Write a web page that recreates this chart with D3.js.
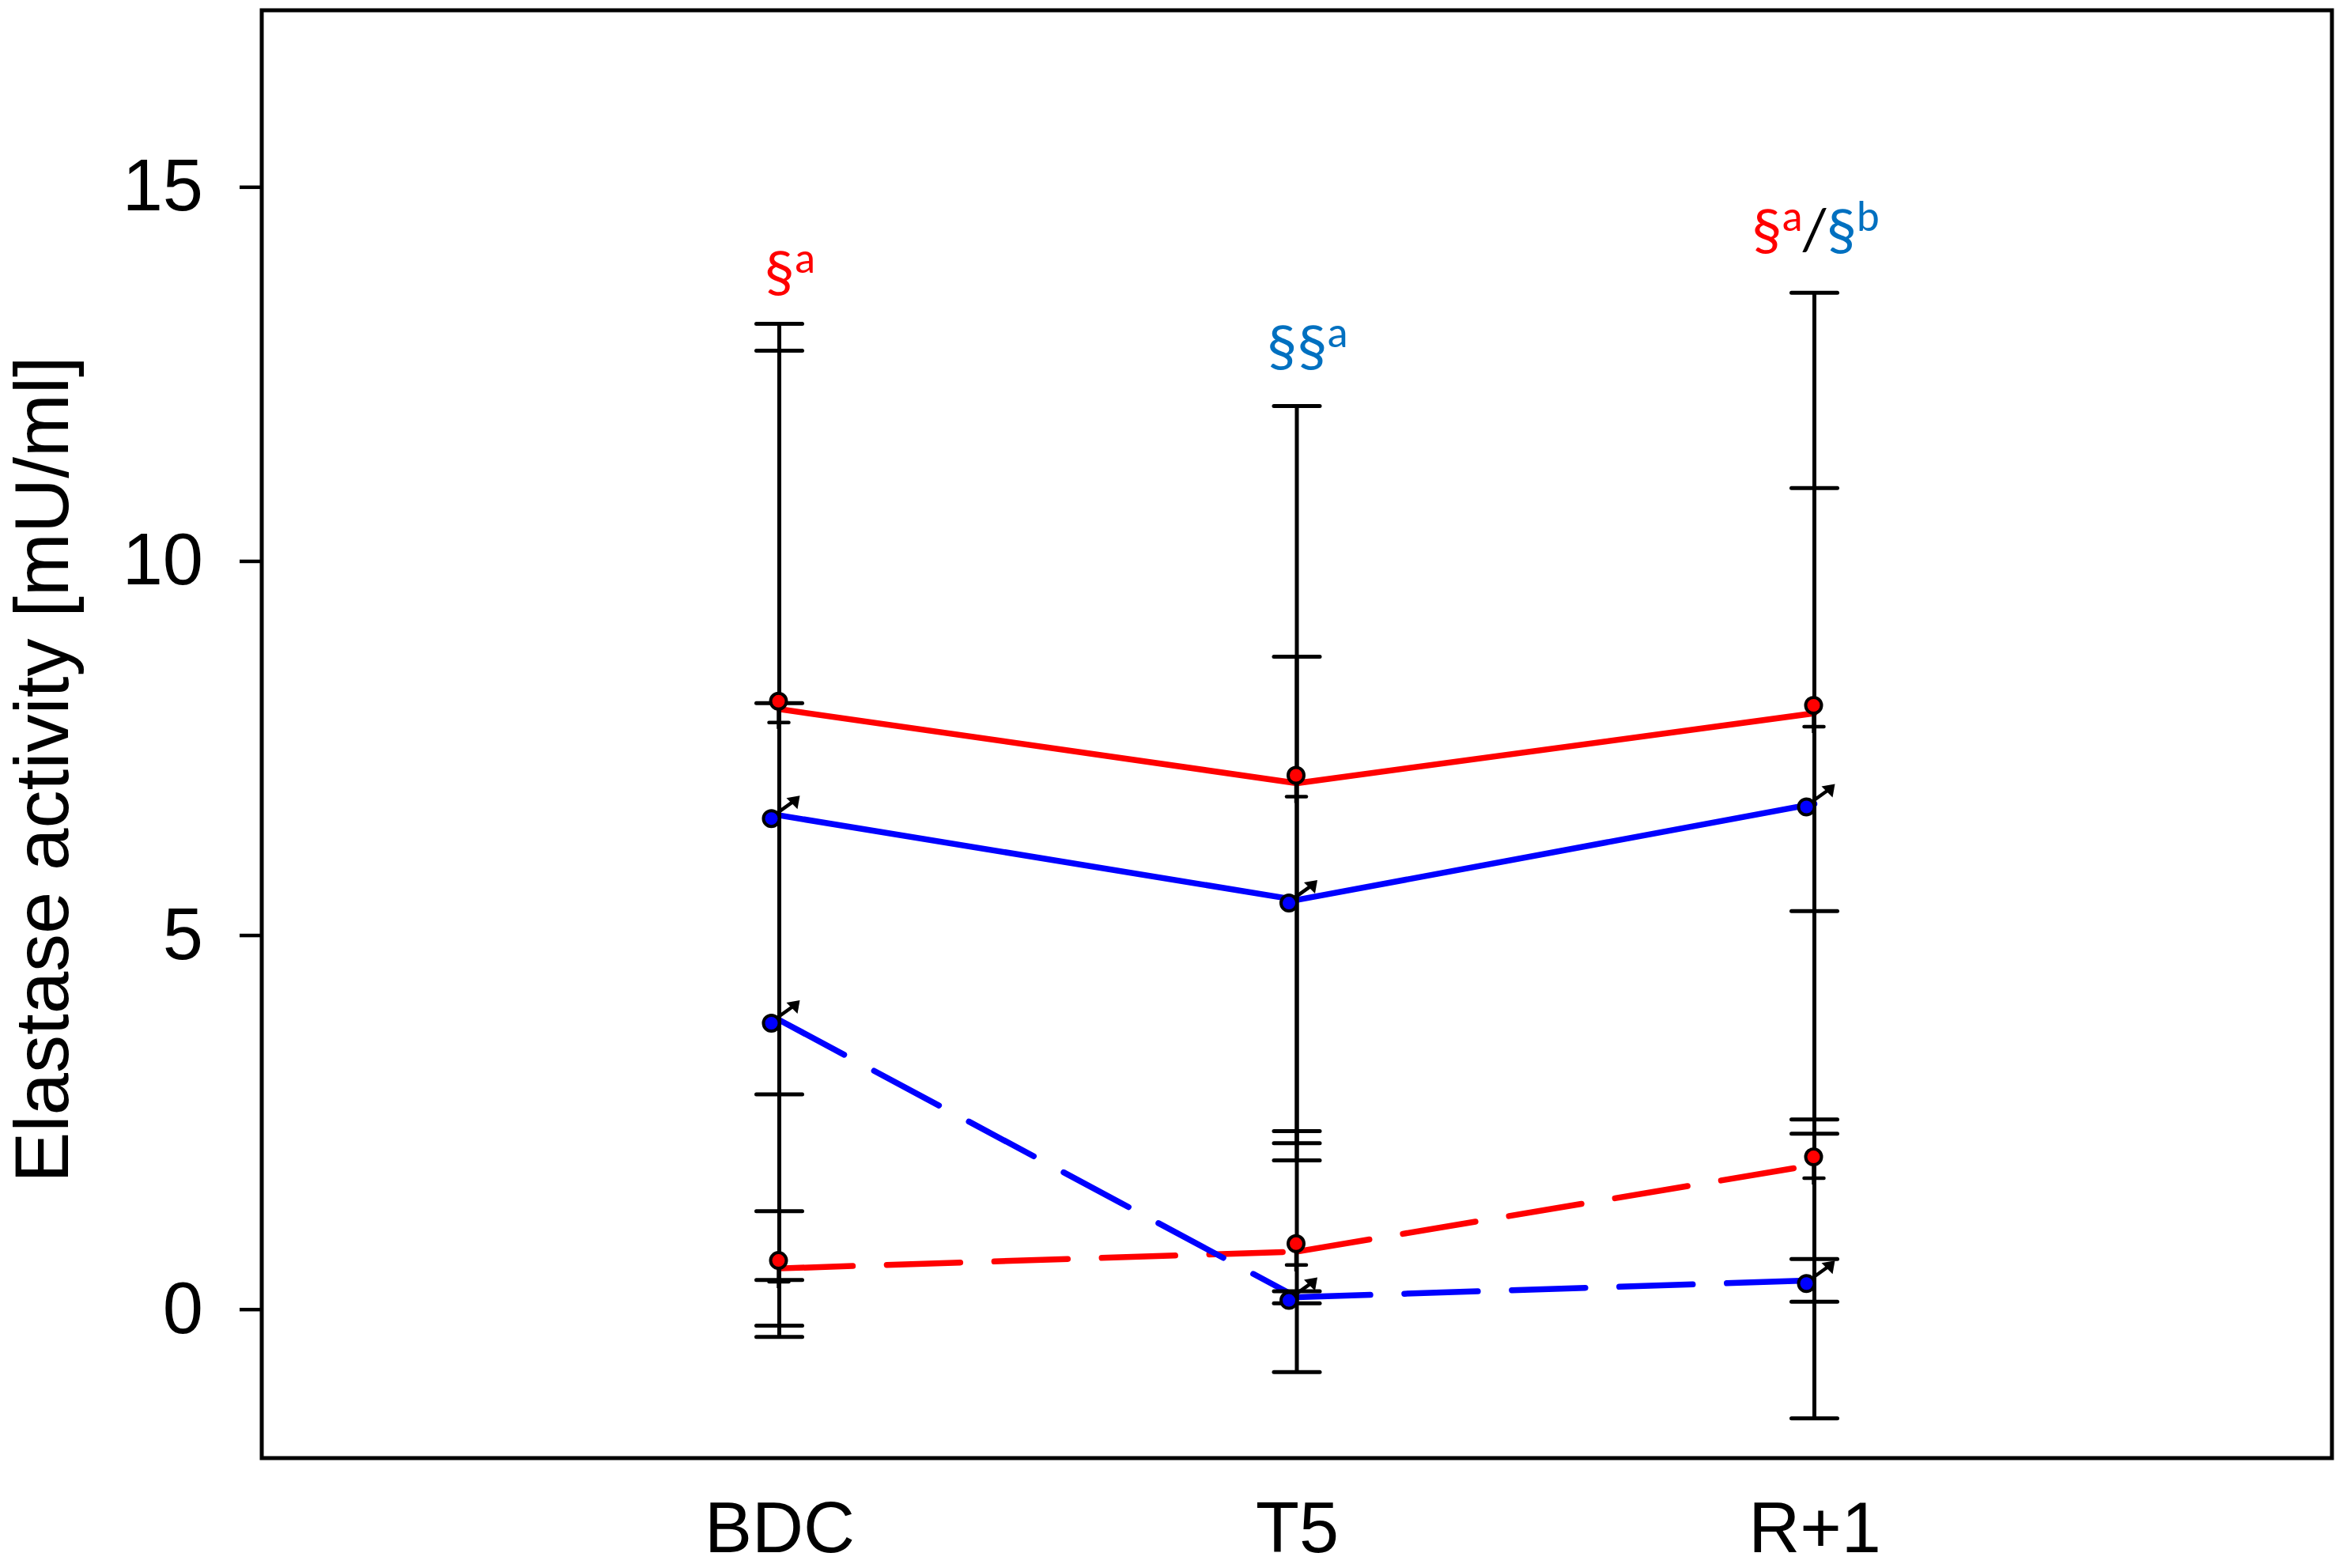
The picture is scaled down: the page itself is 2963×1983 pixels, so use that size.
<!DOCTYPE html>
<html>
<head>
<meta charset="utf-8">
<script src="https://cdn.jsdelivr.net/npm/d3@7"></script>
<style>
  html, body { margin: 0; padding: 0; background: #fff; }
  svg { display: block; }
</style>
</head>
<body>
<svg id="chart"></svg>
<script>
/**
 * @Data
 */
const timepoints = ['BDC', 'T5', 'R+1']
const yTicks = [0, 5, 10, 15]

// mean +/- sd, one value per timepoint
const femaleSolidMean = [8.02, 7.03, 7.965]
const femaleSolidSd = [5.15, 5.04, 5.62]
const maleSolidMean = [6.60, 5.47, 6.755]
const maleSolidSd = [6.21, 3.25, 4.22]
const femaleDashedMean = [0.545, 0.77, 1.93]
const femaleDashedSd = [0.765, 1.61, 3.39]
const maleDashedMean = [3.865, 0.16, 0.385]
const maleDashedSd = [4.235, 0.08, 0.285]

// significance marks per timepoint
const sigMarks = [
    [{sex: 'female', marks: '§', letter: 'a'}],
    [{sex: 'male', marks: '§§', letter: 'a'}],
    [{sex: 'female', marks: '§', letter: 'a'}, {sex: 'male', marks: '§', letter: 'b'}]
]

const series = [
    {sex: 'female', dashed: false, mean: femaleSolidMean, sd: femaleSolidSd},
    {sex: 'male', dashed: false, mean: maleSolidMean, sd: maleSolidSd},
    {sex: 'female', dashed: true, mean: femaleDashedMean, sd: femaleDashedSd},
    {sex: 'male', dashed: true, mean: maleDashedMean, sd: maleDashedSd}
]

/**
 * @Layout
 */
const W = 2963
const H = 1983
const frame = {left: 331, right: 2949, top: 13, bottom: 1844}
const lineColor = {female: '#FF0000', male: '#0000FF'}
const markColor = {female: '#FF0000', male: '#0070C0'}
const AXIS_FONT = '"Liberation Sans", Arial, sans-serif'
const MARK_FONT = 'Carlito, Lato, "Open Sans", sans-serif'

const svg = d3.select('#chart')
    .attr('width', W)
    .attr('height', H)
    .attr('viewBox', `0 0 ${W} ${H}`)

const x = d3.scaleLinear().domain([0, 4]).range([frame.left, frame.right])
const y = d3.scaleLinear().domain([-1.99, 17.36]).range([frame.bottom, frame.top])

/**
 * @Axes
 */
const axisY = svg.append('g')
    .attr('transform', `translate(${frame.left},0)`)
    .call(d3.axisLeft(y).tickValues(yTicks).tickSize(28).tickPadding(46))
axisY.select('.domain').remove()
axisY.selectAll('line').attr('stroke', '#000').attr('stroke-width', 4.5)
axisY.selectAll('text')
    .attr('fill', '#000')
    .style('font-family', AXIS_FONT)
    .style('font-size', '92px')

const axisX = svg.append('g')
    .attr('transform', `translate(0,${frame.bottom})`)
    .call(d3.axisBottom(x).tickValues([1, 2, 3]).tickFormat(d => timepoints[d - 1]).tickSize(0).tickPadding(55))
axisX.select('.domain').remove()
axisX.selectAll('line').remove()
axisX.selectAll('text')
    .attr('fill', '#000')
    .style('font-family', AXIS_FONT)
    .style('font-size', '90px')

svg.append('text')
    .attr('transform', `translate(86,973) rotate(-90)`)
    .attr('text-anchor', 'middle')
    .style('font-family', AXIS_FONT)
    .style('font-size', '96px')
    .attr('fill', '#000')
    .text('Elastase activity [mU/ml]')

/**
 * @Lines
 */
series.forEach(s => {
    const segs = d3.pairs(s.mean.map((v, i) => [i + 1, v]))
    svg.append('g')
        .selectAll('line')
        .data(segs)
        .enter()
        .append('line')
        .attr('x1', d => x(d[0][0]))
        .attr('y1', d => y(d[0][1]))
        .attr('x2', d => x(d[1][0]))
        .attr('y2', d => y(d[1][1]))
        .attr('stroke', lineColor[s.sex])
        .attr('stroke-width', 7.5)
        .attr('stroke-linecap', 'round')
        .attr('stroke-dasharray', s.dashed ? '93,43' : null)
})

/**
 * @ErrorBars
 */
const CAP = 29
series.forEach(s => {
    const g = svg.append('g')
        .selectAll('g')
        .data(s.mean.map((v, i) => ({i: i + 1, lo: v - s.sd[i], hi: v + s.sd[i]})))
        .enter()
        .append('g')
        .attr('stroke', '#000')
        .attr('stroke-width', 5)
    g.append('line')
        .attr('x1', d => x(d.i)).attr('x2', d => x(d.i))
        .attr('y1', d => y(d.lo)).attr('y2', d => y(d.hi))
    g.append('line')
        .attr('stroke-linecap', 'round')
        .attr('x1', d => x(d.i) - CAP).attr('x2', d => x(d.i) + CAP)
        .attr('y1', d => y(d.hi)).attr('y2', d => y(d.hi))
    g.append('line')
        .attr('stroke-linecap', 'round')
        .attr('x1', d => x(d.i) - CAP).attr('x2', d => x(d.i) + CAP)
        .attr('y1', d => y(d.lo)).attr('y2', d => y(d.lo))
})

/**
 * @Markers  (female / male symbols)
 */
series.forEach(s => {
    const pts = svg.append('g')
        .selectAll('g')
        .data(s.mean.map((v, i) => [i + 1, v]))
        .enter()
        .append('g')
        .attr('transform', d => `translate(${x(d[0])},${y(d[1])})`)
    if (s.sex === 'female') {
        pts.append('line')
            .attr('x1', -1).attr('x2', -1).attr('y1', 0).attr('y2', 25)
            .attr('stroke', '#000').attr('stroke-width', 4.5)
        pts.append('line')
            .attr('x1', -13).attr('x2', 12).attr('y1', 17).attr('y2', 17)
            .attr('stroke', '#000').attr('stroke-width', 4.5)
            .attr('stroke-linecap', 'round')
        pts.append('circle')
            .attr('cx', -1).attr('cy', -10).attr('r', 10)
            .attr('fill', lineColor.female)
            .attr('stroke', '#000').attr('stroke-width', 4)
    } else {
        pts.append('line')
            .attr('x1', -4).attr('y1', -2).attr('x2', 17).attr('y2', -17)
            .attr('stroke', '#000').attr('stroke-width', 4.5)
        pts.append('path')
            .attr('d', 'M26,-25 L9,-22 L23,-8 Z')
            .attr('fill', '#000')
        pts.append('circle')
            .attr('cx', -10).attr('cy', 4).attr('r', 10)
            .attr('fill', lineColor.male)
            .attr('stroke', '#000').attr('stroke-width', 4)
    }
})

/**
 * @Significance
 */
const MAIN_SIZE = 77
const SUP_SIZE = 55
const SUP_RAISE = 24
const sigGap = [40, 51, 54]

sigMarks.forEach((entries, col) => {
    const tops = series.map(s => s.mean[col] + s.sd[col])
    const baseY = y(d3.max(tops)) - sigGap[col]
    const g = svg.append('g')
    let cursor = 0
    let anchor = null
    const put = (txt, color, size, dy) => {
        const t = g.append('text')
            .attr('x', cursor)
            .attr('y', -dy)
            .attr('fill', color)
            .style('font-family', MARK_FONT)
            .style('font-size', size + 'px')
            .text(txt)
        const w = t.node().getComputedTextLength()
        const piece = {start: cursor, width: w}
        cursor += w
        return piece
    }
    entries.forEach((e, k) => {
        if (k > 0) {
            const sep = put('/', '#000', MAIN_SIZE, 0)
            anchor = sep
        }
        const m = put(e.marks, markColor[e.sex], MAIN_SIZE, 0)
        if (entries.length === 1) anchor = m
        put(e.letter, markColor[e.sex], SUP_SIZE, SUP_RAISE)
    })
    const shift = x(col + 1) - (anchor.start + anchor.width / 2)
    g.attr('transform', `translate(${shift},${baseY})`)
})

/**
 * @Frame
 */
svg.append('rect')
    .attr('x', frame.left)
    .attr('y', frame.top)
    .attr('width', frame.right - frame.left)
    .attr('height', frame.bottom - frame.top)
    .attr('fill', 'none')
    .attr('stroke', '#000')
    .attr('stroke-width', 5)
</script>
</body>
</html>
